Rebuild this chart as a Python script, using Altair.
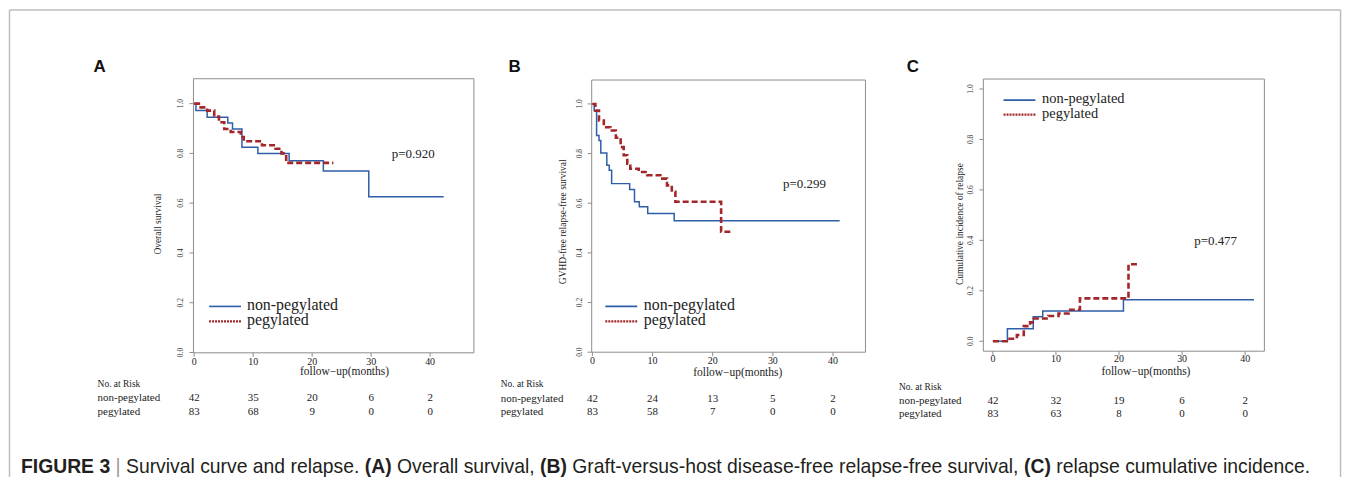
import altair as alt
import pandas as pd

# ---------------- data ----------------
ticks_x = [0, 10, 20, 30, 40]
ticks_y = [0.0, 0.2, 0.4, 0.6, 0.8, 1.0]
tick_labels_y = ["0.0", "0.2", "0.4", "0.6", "0.8", "1.0"]

# (A) overall survival
a_non_t = [0, 0.3, 2.2, 5.7, 6.5, 8.1, 10.8, 16.1, 21.9, 29.6, 42.3]
a_non_s = [1.0, 0.972, 0.945, 0.922, 0.898, 0.825, 0.800, 0.770, 0.729, 0.626, 0.626]
a_peg_t = [0, 1.1, 2.2, 3.4, 4.2, 5.1, 6.2, 7.9, 8.4, 11.5, 13.8, 14.8, 15.6, 23.6]
a_peg_s = [1.0, 0.985, 0.972, 0.948, 0.925, 0.898, 0.886, 0.866, 0.849, 0.833, 0.819, 0.800, 0.762, 0.762]

# (B) GVHD-free relapse-free survival
b_non_t = [0, 0.3, 0.7, 1.1, 1.4, 2.4, 2.8, 3.2, 6.2, 7.0, 7.8, 9.2, 13.6, 41.1]
b_non_s = [1.0, 0.973, 0.873, 0.853, 0.802, 0.753, 0.733, 0.679, 0.655, 0.606, 0.586, 0.559, 0.529, 0.529]
b_peg_t = [0, 0.5, 1.1, 1.9, 3.0, 3.9, 4.7, 5.2, 5.8, 6.3, 7.7, 9.1, 11.3, 12.4, 13.2, 13.8, 21.4, 23.2]
b_peg_s = [1.0, 0.973, 0.933, 0.906, 0.893, 0.864, 0.826, 0.793, 0.759, 0.739, 0.726, 0.713, 0.699,
           0.672, 0.646, 0.606, 0.485, 0.485]

# (C) cumulative incidence of relapse
c_non_t = [0, 2.3, 6.4, 7.9, 20.7, 41.4]
c_non_s = [0.0, 0.050, 0.097, 0.120, 0.165, 0.165]
c_peg_t = [0, 2.2, 3.8, 4.9, 5.9, 6.5, 8.8, 10.4, 12.0, 13.8, 21.5, 23.3]
c_peg_s = [0.0, 0.010, 0.025, 0.060, 0.075, 0.090, 0.100, 0.110, 0.125, 0.170, 0.305, 0.305]

risk_a_non = [42, 35, 20, 6, 2]
risk_a_peg = [83, 68, 9, 0, 0]
risk_b_non = [42, 24, 13, 5, 2]
risk_b_peg = [83, 58, 7, 0, 0]
risk_c_non = [42, 32, 19, 6, 2]
risk_c_peg = [83, 63, 8, 0, 0]

group_names = ["non-pegylated", "pegylated"]
p_values = ["p=0.920", "p=0.299", "p=0.477"]
y_titles = ["Overall survival", "GVHD-free relapse-free survival", "Cumulative incidence of relapse"]
x_title = "follow\u2212up(months)"
risk_title = "No. at Risk"
panel_letters = ["A", "B", "C"]

caption_segments = [
    ("FIGURE 3", True), ("|", False), ("Survival curve and relapse.", False),
    ("(A)", True), ("Overall survival,", False), ("(B)", True),
    ("Graft-versus-host disease-free relapse-free survival,", False),
    ("(C)", True), ("relapse cumulative incidence.", False),
]

# ---------------- styles ----------------
SERIF = "Liberation Serif"
SANS = "Liberation Sans"
INK = "#222222"
BOX = "#8c8c8c"
BLUE = "#2f5ea9"
RED = "#a3262a"
FRAME = "#bdbdbd"
OFF = 8  # page margin


def one():
    return pd.DataFrame({"k": [0]})


def txt(s, x, y, size, font=SERIF, align="center", angle=None, weight="normal", color=INK):
    kw = dict(text=s, fontSize=size, font=font, align=align, baseline="middle",
              fontWeight=weight, color=color)
    if angle is not None:
        kw["angle"] = angle
    return alt.Chart(one()).mark_text(**kw).encode(x=alt.value(x - OFF), y=alt.value(y - OFF))


def hline(x1, x2, y, color, width, dash=None):
    kw = dict(color=color, strokeWidth=width)
    if dash:
        kw["strokeDash"] = dash
    return alt.Chart(one()).mark_rule(**kw).encode(
        x=alt.value(x1 - OFF), x2=alt.value(x2 - OFF), y=alt.value(y - OFF))


def vline(x, y1, y2, color, width):
    return alt.Chart(one()).mark_rule(color=color, strokeWidth=width).encode(
        x=alt.value(x - OFF), y=alt.value(y1 - OFF), y2=alt.value(y2 - OFF))


panels = [
    dict(letter=(100, 66), L=194.3, R=476, T=78, B=353.3, x0=195, x40=432, y0=353, y1=103,
         ylab_x=181.7, ytitle=(159, 224), xlab_y=363, xtitle=(346, 373),
         risk_x=98, risk_rows=(385, 399, 413), p=(415, 153.3),
         leg=(210, 242, 248, 306.7, 321.7, 16),
         non=(a_non_t, a_non_s), peg=(a_peg_t, a_peg_s), risk=(risk_a_non, risk_a_peg)),
    dict(letter=(517, 66), L=594.3, R=869.3, T=79.3, B=352.7, x0=595, x40=836.7, y0=352.7, y1=103.3,
         ylab_x=582.7, ytitle=(565, 221.7), xlab_y=362, xtitle=(741, 374),
         risk_x=503, risk_rows=(385, 400, 412.7), p=(808, 183.3),
         leg=(608, 640, 646.7, 306.7, 321.7, 16),
         non=(b_non_t, b_non_s), peg=(b_peg_t, b_peg_s), risk=(risk_b_non, risk_b_peg)),
    dict(letter=(917, 66), L=987.7, R=1270, T=78.3, B=351.7, x0=997.3, x40=1250.7, y0=341.7, y1=88.3,
         ylab_x=975, ytitle=(964, 224), xlab_y=360, xtitle=(1151, 373),
         risk_x=903, risk_rows=(387.3, 401.7, 414.3), p=(1221, 240.7),
         leg=(1008, 1040, 1046.7, 99.5, 114, 14.5),
         non=(c_non_t, c_non_s), peg=(c_peg_t, c_peg_s), risk=(risk_c_non, risk_c_peg)),
]


def build_panel(i, p):
    xs = alt.Scale(domain=[0, 40], range=[p["x0"] - OFF, p["x40"] - OFF], nice=False, zero=False)
    ys = alt.Scale(domain=[0, 1], range=[p["y0"] - OFF, p["y1"] - OFF], nice=False, zero=False)

    def X(f):
        return alt.X(f, type="quantitative", scale=xs, axis=None)

    def Y(f):
        return alt.Y(f, type="quantitative", scale=ys, axis=None)

    layers = []
    # plot box
    layers.append(alt.Chart(one()).mark_rect(fillOpacity=0, stroke=BOX, strokeWidth=1).encode(
        x=alt.value(p["L"] - OFF), x2=alt.value(p["R"] - OFF),
        y=alt.value(p["T"] - OFF), y2=alt.value(p["B"] - OFF)))

    # curves
    nt, ns = p["non"]
    pt, ps = p["peg"]
    layers.append(alt.Chart(pd.DataFrame({"t": nt, "s": ns})).mark_line(
        interpolate="step-after", color=BLUE, strokeWidth=1.5).encode(x=X("t"), y=Y("s")))
    layers.append(alt.Chart(pd.DataFrame({"t": pt, "s": ps})).mark_line(
        interpolate="step-after", color=RED, strokeWidth=2.6, strokeDash=[6, 3]).encode(x=X("t"), y=Y("s")))

    # x ticks + labels
    tdf = pd.DataFrame({"v": ticks_x, "lab": [str(v) for v in ticks_x]})
    layers.append(alt.Chart(tdf).mark_rule(color=BOX).encode(
        x=X("v"), y=alt.value(p["B"] - OFF), y2=alt.value(p["B"] - OFF + 4)))
    layers.append(alt.Chart(tdf).mark_text(font=SERIF, fontSize=10, color=INK, baseline="middle").encode(
        x=X("v"), y=alt.value(p["xlab_y"] - OFF), text="lab:N"))

    # y ticks + labels
    ydf = pd.DataFrame({"v": ticks_y, "lab": tick_labels_y})
    layers.append(alt.Chart(ydf).mark_rule(color=BOX).encode(
        y=Y("v"), x=alt.value(p["L"] - OFF - 4), x2=alt.value(p["L"] - OFF)))
    layers.append(alt.Chart(ydf).mark_text(font=SERIF, fontSize=7.5, color="#333333", angle=270,
                                           baseline="middle").encode(
        y=Y("v"), x=alt.value(p["ylab_x"] - OFF), text="lab:N"))

    # risk table numbers
    r_non, r_peg = p["risk"]
    for vals, yy in [(r_non, p["risk_rows"][1]), (r_peg, p["risk_rows"][2])]:
        rdf = pd.DataFrame({"v": ticks_x, "n": [str(n) for n in vals]})
        layers.append(alt.Chart(rdf).mark_text(font=SERIF, fontSize=11, color=INK, baseline="middle").encode(
            x=X("v"), y=alt.value(yy - OFF), text="n:N"))

    # texts
    layers.append(txt(panel_letters[i], p["letter"][0], p["letter"][1], 17, font=SANS, weight="bold",
                      color="#111111"))
    layers.append(txt(y_titles[i], p["ytitle"][0], p["ytitle"][1], 9.5, angle=270))
    layers.append(txt(x_title, p["xtitle"][0], p["xtitle"][1], 11.5))
    layers.append(txt(risk_title, p["risk_x"], p["risk_rows"][0], 9.5, align="left"))
    layers.append(txt(group_names[0], p["risk_x"], p["risk_rows"][1], 11, align="left"))
    layers.append(txt(group_names[1], p["risk_x"], p["risk_rows"][2], 11, align="left"))
    layers.append(txt(p_values[i], p["p"][0], p["p"][1], 13))

    # legend
    lx1, lx2, tx, ly1, ly2, lsize = p["leg"]
    layers.append(hline(lx1, lx2, ly1, BLUE, 1.6))
    layers.append(hline(lx1, lx2, ly2, RED, 2.2, dash=[2, 1]))
    layers.append(txt(group_names[0], tx, ly1 - 1, lsize, align="left"))
    layers.append(txt(group_names[1], tx, ly2 - 1, lsize, align="left"))

    return alt.layer(*layers)


# ---------------- caption (Arial metrics == Liberation Sans) ----------------
REG = dict(zip("abcdefghijklmnopqrstuvwxyz",
               [556, 556, 500, 556, 556, 278, 556, 556, 222, 222, 500, 222, 833, 556, 556, 556, 556,
                333, 500, 278, 556, 500, 722, 500, 500, 500]))
REG.update({" ": 278, ".": 278, ",": 278, "-": 333, "|": 260, "S": 667, "O": 778, "G": 778})
BOLD = {"F": 611, "I": 278, "G": 778, "U": 722, "R": 722, "E": 667, " ": 278, "3": 556,
        "(": 333, ")": 333, "A": 722, "B": 722, "C": 722}


def em(s, bold):
    table = BOLD if bold else REG
    return sum(table.get(c, 556) for c in s) / 1000.0


cap_left, cap_right, cap_y = 21, 1316, 468
space_em = 0.278
total_em = sum(em(s, b) for s, b in caption_segments) + space_em * (len(caption_segments) - 1)
cap_size = (cap_right - cap_left) / total_em

cap_layers = []
cx = cap_left
for s, b in caption_segments:
    color = "#9a9a9a" if s == "|" else "#231f20"
    cap_layers.append(txt(s, cx, cap_y, cap_size, font=SANS, align="left",
                          weight="bold" if b else "normal", color=color))
    cx += (em(s, b) + space_em) * cap_size

# ---------------- outer frame ----------------
W, H = 1347, 470
frame_layers = [
    vline(9.5, 9, H + OFF, FRAME, 1.5),
    vline(1346.5, 9, H + OFF, FRAME, 1.5),
    hline(9.5, 1346.5, 9, FRAME, 1.5),
]

chart = alt.layer(
    *[build_panel(i, p) for i, p in enumerate(panels)],
    *cap_layers,
    *frame_layers,
).resolve_scale(x="independent", y="independent").properties(
    width=W, height=H, padding=0, autosize=alt.AutoSizeParams(type="none")
).configure_view(stroke=None)

chart.save("out.html", embed_options={"renderer": "svg", "actions": False})
